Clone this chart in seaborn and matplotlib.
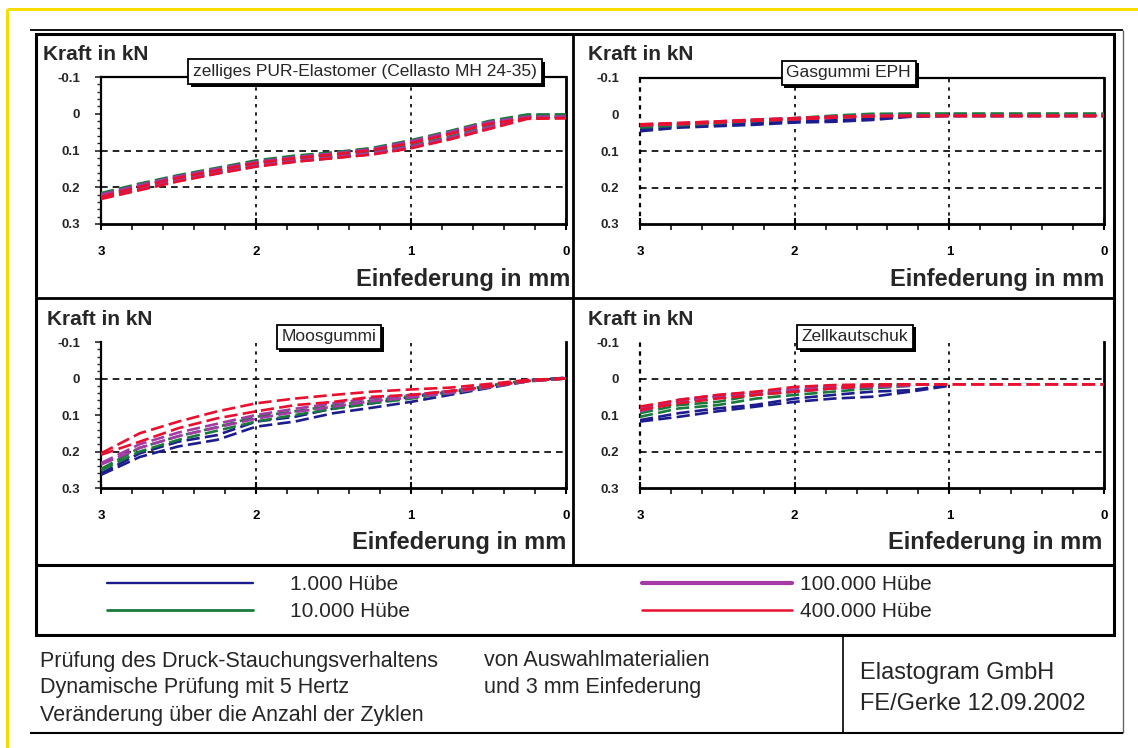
import numpy as np
import pandas as pd
import matplotlib
matplotlib.use("Agg")
import matplotlib.pyplot as plt
import seaborn as sns
from matplotlib.lines import Line2D
from matplotlib.patches import Rectangle
from matplotlib.ticker import MultipleLocator
import matplotlib.patheffects as pe

sns.set_theme(style="white")
plt.rcParams['font.family'] = ['Liberation Sans', 'DejaVu Sans']

# ---------------- data ----------------
cycles = ["1.000 Hübe", "10.000 Hübe", "100.000 Hübe", "400.000 Hübe"]
colors = ["#1c1c8e", "#1a7a3c", "#a33aa6", "#e8102e"]
materials = ["zelliges PUR-Elastomer (Cellasto MH 24-35)", "Gasgummi EPH",
             "Moosgummi", "Zellkautschuk"]

x_mm = [3.0, 2.75, 2.5, 2.25, 2.0, 1.75, 1.5, 1.25, 1.0, 0.75, 0.5, 0.25, 0.0]
x_ticks = [3, 2, 1, 0]
x_tick_labels = ["3", "2", "1", "0"]
y_ticks = [-0.1, 0.0, 0.1, 0.2, 0.3]
y_tick_labels = ["-0.1", "0", "0.1", "0.2", "0.3"]
nan = np.nan

pur_1k_load = [0.228, 0.205, 0.182, 0.162, 0.143, 0.130, 0.120, 0.110, 0.092, 0.068, 0.040, 0.010, 0.008]
pur_1k_unload = [0.222, 0.196, 0.172, 0.152, 0.133, 0.120, 0.110, 0.098, 0.078, 0.052, 0.025, 0.008, 0.008]
pur_10k_load = [0.222, 0.200, 0.176, 0.158, 0.138, 0.126, 0.116, 0.104, 0.086, 0.062, 0.034, 0.004, 0.002]
pur_10k_unload = [0.216, 0.190, 0.167, 0.147, 0.127, 0.114, 0.105, 0.093, 0.072, 0.047, 0.020, 0.002, 0.002]
pur_100k_load = [0.226, 0.204, 0.180, 0.160, 0.141, 0.128, 0.118, 0.107, 0.089, 0.065, 0.037, 0.010, 0.008]
pur_100k_unload = [0.220, 0.194, 0.170, 0.150, 0.131, 0.118, 0.108, 0.096, 0.075, 0.050, 0.023, 0.008, 0.008]
pur_400k_load = [0.232, 0.208, 0.184, 0.163, 0.144, 0.131, 0.121, 0.111, 0.094, 0.070, 0.042, 0.014, 0.012]
pur_400k_unload = [0.226, 0.199, 0.174, 0.154, 0.134, 0.121, 0.111, 0.099, 0.080, 0.055, 0.028, 0.012, 0.012]

eph_1k_load = [0.046, 0.036, 0.032, 0.028, 0.022, 0.020, 0.015, 0.006, 0.004, 0.004, 0.004, 0.004, 0.004]
eph_1k_unload = [0.040, 0.031, 0.027, 0.023, 0.018, 0.016, 0.011, 0.004, 0.004, 0.004, 0.004, 0.004, 0.004]
eph_10k_load = [0.036, 0.030, 0.024, 0.018, 0.013, 0.006, 0.000, -0.002, -0.002, -0.002, -0.002, -0.002, -0.002]
eph_10k_unload = [0.032, 0.027, 0.021, 0.015, 0.010, 0.003, -0.002, -0.002, -0.002, -0.002, -0.002, -0.002, -0.002]
eph_100k_load = [0.030, 0.027, 0.022, 0.017, 0.013, 0.008, 0.004, 0.003, 0.003, 0.003, 0.003, 0.003, 0.003]
eph_100k_unload = [0.027, 0.024, 0.019, 0.014, 0.010, 0.006, 0.003, 0.003, 0.003, 0.003, 0.003, 0.003, 0.003]
eph_400k_load = [0.030, 0.026, 0.022, 0.017, 0.013, 0.009, 0.005, 0.004, 0.004, 0.004, 0.004, 0.004, 0.004]
eph_400k_unload = [0.027, 0.023, 0.019, 0.014, 0.010, 0.006, 0.004, 0.004, 0.004, 0.004, 0.004, 0.004, 0.004]

moos_1k_load = [0.264, 0.215, 0.186, 0.168, 0.132, 0.118, 0.095, 0.080, 0.064, 0.045, 0.026, 0.008, -0.002]
moos_1k_unload = [0.260, 0.205, 0.173, 0.155, 0.118, 0.105, 0.082, 0.068, 0.050, 0.038, 0.020, 0.005, -0.002]
moos_10k_load = [0.252, 0.200, 0.168, 0.143, 0.118, 0.100, 0.083, 0.068, 0.055, 0.040, 0.024, 0.008, 0.000]
moos_10k_unload = [0.248, 0.190, 0.158, 0.133, 0.105, 0.090, 0.074, 0.061, 0.048, 0.035, 0.020, 0.005, 0.000]
moos_100k_load = [0.236, 0.190, 0.158, 0.134, 0.110, 0.092, 0.077, 0.062, 0.052, 0.040, 0.024, 0.008, 0.000]
moos_100k_unload = [0.232, 0.180, 0.148, 0.124, 0.100, 0.083, 0.068, 0.054, 0.045, 0.034, 0.019, 0.005, 0.000]
moos_400k_load = [0.209, 0.173, 0.136, 0.109, 0.090, 0.073, 0.064, 0.050, 0.045, 0.035, 0.022, 0.007, 0.000]
moos_400k_unload = [0.205, 0.150, 0.118, 0.090, 0.068, 0.055, 0.045, 0.036, 0.030, 0.025, 0.015, 0.004, 0.000]

zell_1k_load = [0.118, 0.105, 0.090, 0.077, 0.064, 0.055, 0.050, 0.036, 0.020, nan, nan, nan, nan]
zell_1k_unload = [0.114, 0.095, 0.082, 0.072, 0.055, 0.045, 0.036, 0.032, 0.018, nan, nan, nan, nan]
zell_10k_load = [0.105, 0.082, 0.073, 0.055, 0.045, 0.036, 0.027, 0.020, nan, nan, nan, nan, nan]
zell_10k_unload = [0.095, 0.073, 0.064, 0.045, 0.036, 0.027, 0.018, 0.016, nan, nan, nan, nan, nan]
zell_100k_load = [0.090, 0.063, 0.050, 0.041, 0.036, 0.027, 0.023, 0.020, nan, nan, nan, nan, nan]
zell_100k_unload = [0.084, 0.058, 0.046, 0.037, 0.030, 0.022, 0.019, 0.017, nan, nan, nan, nan, nan]
zell_400k_load = [0.086, 0.068, 0.055, 0.045, 0.036, 0.027, 0.020, 0.017, 0.016, 0.016, 0.016, 0.016, 0.016]
zell_400k_unload = [0.077, 0.059, 0.045, 0.036, 0.023, 0.018, 0.016, 0.016, 0.016, 0.016, 0.016, 0.016, 0.016]

series = {
    materials[0]: [(pur_1k_load, pur_1k_unload), (pur_10k_load, pur_10k_unload),
                   (pur_100k_load, pur_100k_unload), (pur_400k_load, pur_400k_unload)],
    materials[1]: [(eph_1k_load, eph_1k_unload), (eph_10k_load, eph_10k_unload),
                   (eph_100k_load, eph_100k_unload), (eph_400k_load, eph_400k_unload)],
    materials[2]: [(moos_1k_load, moos_1k_unload), (moos_10k_load, moos_10k_unload),
                   (moos_100k_load, moos_100k_unload), (moos_400k_load, moos_400k_unload)],
    materials[3]: [(zell_1k_load, zell_1k_unload), (zell_10k_load, zell_10k_unload),
                   (zell_100k_load, zell_100k_unload), (zell_400k_load, zell_400k_unload)],
}

rows = []
for mat, lst in series.items():
    for cyc, (ld, ul) in zip(cycles, lst):
        for br, vals in (("load", ld), ("unload", ul)):
            for xv, yv in zip(x_mm, vals):
                rows.append((mat, cyc, br, xv, yv))
df = pd.DataFrame(rows, columns=["material", "cycles", "branch", "x", "y"]).dropna()

grid_y = {materials[0]: [0.1, 0.2], materials[1]: [0.1, 0.2],
          materials[2]: [0.0, 0.2], materials[3]: [0.0, 0.2]}
grid_x = [2, 1]

# ---------------- layout helpers ----------------
W, H = 1138, 748
fig = plt.figure(figsize=(W / 100, H / 100), dpi=100)
fig.patch.set_facecolor("white")

def fx(px):
    return px / W

def fy(py):
    return 1 - py / H

def fline(x0, y0, x1, y1, color="black", lw=1.5, **kw):
    fig.add_artist(Line2D([fx(x0), fx(x1)], [fy(y0), fy(y1)], color=color, lw=lw,
                          solid_capstyle="butt", **kw))

def add_ax(l, t, r, b):
    return fig.add_axes([fx(l), fy(b), (r - l) / W, (b - t) / H])

# panel rectangles (left, top, right, bottom) in px
panels = [(101, 77, 566, 224), (640, 78, 1104, 224),
          (101, 342, 566, 488), (640, 342, 1104, 488)]
title_cx = [0.568, 0.45, 0.49, 0.464]
palette = dict(zip(cycles, colors))

for i, (mat, rect) in enumerate(zip(materials, panels)):
    ax = add_ax(*rect)
    ax.set_facecolor("white")
    sub = df[df.material == mat]
    sns.lineplot(data=sub, x="x", y="y", hue="cycles", units="branch",
                 estimator=None, sort=False, hue_order=cycles, palette=palette,
                 legend=False, ax=ax, lw=1.9, zorder=3)
    for ln in ax.lines:
        ln.set_linestyle((0, (5, 2)))
    for gy in grid_y[mat]:
        ax.axhline(gy, color="black", lw=1.2, ls=(0, (4, 3)), zorder=1)
    for gx in grid_x:
        ax.axvline(gx, color="black", lw=1.2, ls=(0, (2, 3)), zorder=1)

    ax.set_xlim(3, 0)
    ax.set_ylim(0.3, -0.1)
    ax.set_xticks(x_ticks)
    ax.set_xticklabels(x_tick_labels)
    ax.set_yticks(y_ticks)
    ax.set_yticklabels(y_tick_labels)
    ax.xaxis.set_minor_locator(MultipleLocator(0.2))
    ax.set_xlabel("")
    ax.set_ylabel("")
    ax.grid(False)

    left_panel = i in (0, 2)
    ax.tick_params(axis="x", which="major", direction="inout", length=9, width=1.5,
                   pad=11, labelsize=9.5, colors="black", bottom=True)
    ax.tick_params(axis="x", which="minor", direction="out", length=4, width=1.3,
                   bottom=True)
    if left_panel:
        ax.yaxis.set_minor_locator(MultipleLocator(0.02))
        ax.tick_params(axis="y", which="major", direction="out", length=4, width=1.2,
                       pad=11, labelsize=9.5, left=True)
        ax.tick_params(axis="y", which="minor", direction="out", length=3, width=1.0,
                       left=True)
    else:
        ax.tick_params(axis="y", which="major", length=0, pad=15, labelsize=9.5, left=True)
    for lab in ax.get_xticklabels() + ax.get_yticklabels():
        lab.set_fontweight("bold")

    for s in ax.spines.values():
        s.set_color("black")
        s.set_linewidth(1.6)
    ax.spines["bottom"].set_linewidth(2.0)
    ax.spines["right"].set_linewidth(2.0)
    if i >= 2:
        ax.spines["top"].set_visible(False)
    if not left_panel:
        ax.spines["left"].set_linestyle((0, (1, 3)))
        ax.spines["left"].set_linewidth(1.6)

    t = ax.text(title_cx[i], 1.035, mat, transform=ax.transAxes, ha="center",
                va="center", fontsize=12.5, zorder=10, clip_on=False,
                bbox=dict(boxstyle="square,pad=0.28", fc="white", ec="black", lw=1.3))
    t.get_bbox_patch().set_path_effects(
        [pe.SimplePatchShadow(offset=(2, -2), shadow_rgbFace="black", alpha=1.0),
         pe.Normal()])

# axis titles
for (lx, ly) in [(43, 55), (588, 55), (47, 320), (588, 320)]:
    fig.text(fx(lx), fy(ly), "Kraft in kN", ha="left", va="center",
             fontsize=15, fontweight="bold")
for (rx, ry) in [(570, 279), (1104, 279), (566, 542), (1102, 543)]:
    fig.text(fx(rx), fy(ry), "Einfederung in mm", ha="right", va="center",
             fontsize=17, fontweight="bold")

# ---------------- frames ----------------
yellow = "#f7dc00"
fline(7, 9, 1138, 9, color=yellow, lw=2.2)
fline(7, 9, 7, 748, color=yellow, lw=2.2)
# outer thin frame
fline(30, 30, 1123, 30, lw=1.3)
fline(1123, 30, 1123, 733, color="#666666", lw=1.0)
fline(30, 733, 1123, 733, lw=1.5)
# inner thick box
fig.add_artist(Rectangle((fx(36), fy(635)), (1114 - 36) / W, (635 - 34) / H,
                         fill=False, ec="black", lw=2.2, transform=fig.transFigure))
fline(573, 34, 573, 565, lw=2.0)
fline(36, 298, 1114, 298, lw=2.0)
fline(36, 565, 1114, 565, lw=2.2)
fline(843, 637, 843, 733, lw=1.2)

# ---------------- legend ----------------
leg_lw = [1.7, 2.0, 3.0, 1.8]
handles = [Line2D([], [], color=c, lw=w) for c, w in zip(colors, leg_lw)]
leg1 = fig.legend(handles[:2], cycles[:2], loc="upper left",
                  bbox_to_anchor=(fx(107), fy(575)), frameon=False, fontsize=15,
                  handlelength=7.0, handletextpad=1.8, labelspacing=0.4,
                  borderpad=0, borderaxespad=0)
leg2 = fig.legend(handles[2:], cycles[2:], loc="upper left",
                  bbox_to_anchor=(fx(642), fy(575)), frameon=False, fontsize=15,
                  handlelength=7.2, handletextpad=0.4, labelspacing=0.4,
                  borderpad=0, borderaxespad=0)

# ---------------- footer ----------------
foot_fs = 15.5
fig.text(fx(40), fy(661), "Prüfung des Druck-Stauchungsverhaltens", ha="left", va="center", fontsize=foot_fs)
fig.text(fx(484), fy(661), "von Auswahlmaterialien", ha="left", va="center", fontsize=foot_fs)
fig.text(fx(40), fy(688), "Dynamische Prüfung mit 5 Hertz", ha="left", va="center", fontsize=foot_fs)
fig.text(fx(484), fy(688), "und 3 mm Einfederung", ha="left", va="center", fontsize=foot_fs)
fig.text(fx(40), fy(715), "Veränderung über die Anzahl der Zyklen", ha="left", va="center", fontsize=foot_fs)
fig.text(fx(860), fy(673), "Elastogram GmbH", ha="left", va="center", fontsize=17)
fig.text(fx(860), fy(704), "FE/Gerke 12.09.2002", ha="left", va="center", fontsize=17)

fig.savefig("out.png", dpi=100, facecolor="white")
